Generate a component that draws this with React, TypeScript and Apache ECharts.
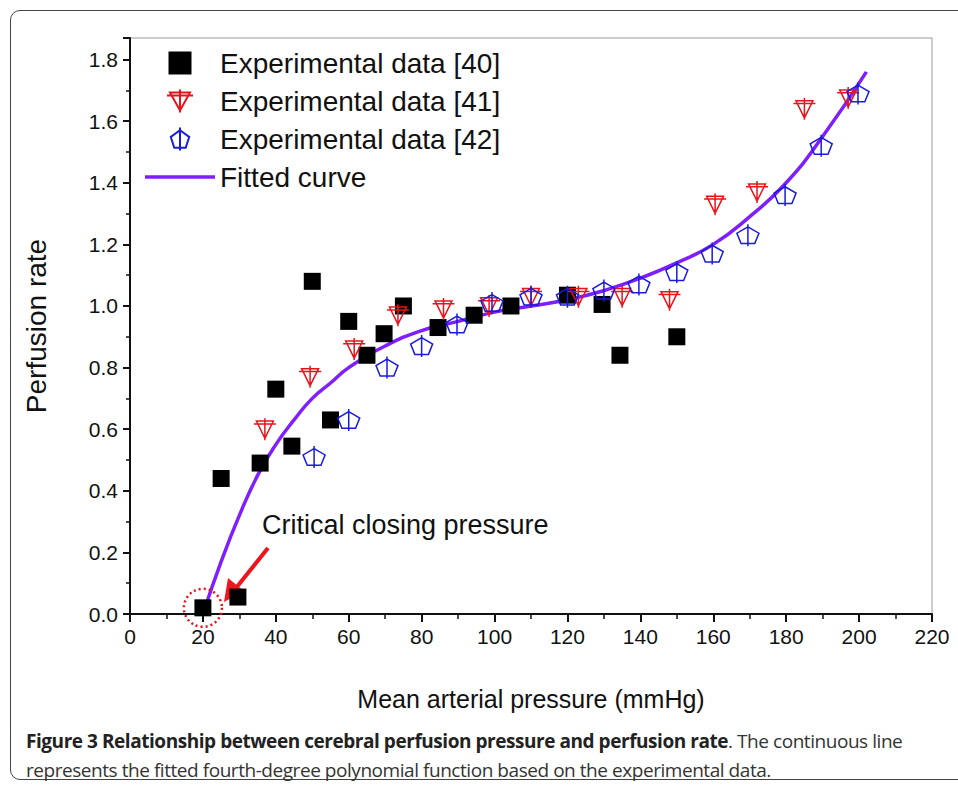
import { useEffect, useRef } from 'react'
import * as echarts from 'echarts'

const data40 = [
  [20, 0.02], [25, 0.44], [29.6, 0.055], [35.7, 0.49], [40, 0.73], [44.4, 0.545], [50, 1.08],
  [55, 0.63], [60, 0.95], [65, 0.84], [69.7, 0.91], [75, 1.0], [84.5, 0.93], [94.4, 0.97],
  [104.5, 1.0], [120, 1.035], [129.5, 1.005], [134.4, 0.84], [150, 0.9],
]
const data41 = [
  [37, 0.6], [49.4, 0.77], [61.5, 0.86], [73.5, 0.97], [86, 0.99], [98.5, 1.0], [110, 1.03],
  [123, 1.03], [135, 1.03], [148, 1.02], [160.5, 1.33], [172, 1.37], [185, 1.64], [197, 1.675],
]
const data42 = [
  [50.5, 0.51], [60, 0.63], [70.5, 0.8], [80, 0.87], [89.7, 0.94], [99.3, 1.01], [110, 1.03],
  [120, 1.03], [130, 1.05], [139.6, 1.07], [150, 1.11], [159.7, 1.17], [169.5, 1.23],
  [179.7, 1.36], [189.6, 1.52], [199.7, 1.69],
]
const fitted = [
  [20, 0.0], [25, 0.17], [30, 0.32], [35, 0.45], [40, 0.55], [45, 0.63], [50, 0.7], [55, 0.75],
  [60, 0.8], [70, 0.87], [80, 0.92], [90, 0.95], [100, 0.98], [110, 1.0], [120, 1.02], [130, 1.05],
  [140, 1.09], [150, 1.14], [160, 1.2], [170, 1.29], [180, 1.4], [190, 1.55], [202, 1.76],
]
const criticalPoint = [[20, 0.02]]

const triSymbol = 'path://M0,3 L20,3 L10,21 Z M-3,6 L23,6 M10,0 L10,23'
const pentSymbol = 'path://M10,1 L20,8.3 L16.2,20 L3.8,20 L0,8.3 Z M10,-2 L10,23'
const squareIcon = 'path://M0,0 L10,0 L10,10 L0,10 Z'
const lineIcon = 'path://M0,0 L70,0 L70,3.5 L0,3.5 Z'

export default function App() {
  const ref = useRef<HTMLDivElement>(null)

  useEffect(() => {
    if (!ref.current) return
    const chart = echarts.init(ref.current, null, { renderer: 'svg' })
    const font = '"Liberation Sans", Arial, sans-serif'
    chart.setOption({
      animation: false,
      textStyle: { fontFamily: font },
      grid: { left: 130, top: 38, right: 26, bottom: 106, show: true, borderColor: '#999', borderWidth: 1 },
      legend: {
        left: 140, top: 44, orient: 'vertical', itemGap: 10, itemWidth: 70, itemHeight: 23,
        textStyle: { fontSize: 28, color: '#111', fontFamily: font },
        data: [
          { name: 'Experimental data [40]', icon: squareIcon },
          'Experimental data [41]', 'Experimental data [42]',
          { name: 'Fitted curve', icon: lineIcon },
        ],
      },
      xAxis: {
        type: 'value', min: 0, max: 220, interval: 20,
        name: 'Mean arterial pressure (mmHg)', nameLocation: 'middle', nameGap: 72,
        nameTextStyle: { fontSize: 25, color: '#111' },
        axisLine: { lineStyle: { color: '#111', width: 2 } },
        axisTick: { length: 8, lineStyle: { color: '#111', width: 2 } },
        minorTick: { show: true, splitNumber: 2, length: 5, lineStyle: { color: '#111', width: 1.5 } },
        axisLabel: { fontSize: 21, color: '#111', margin: 12 },
        splitLine: { show: false },
      },
      yAxis: {
        type: 'value', min: 0, max: 1.87, interval: 0.2,
        name: 'Perfusion rate', nameLocation: 'middle', nameGap: 80,
        nameTextStyle: { fontSize: 28, color: '#111' },
        axisLine: { lineStyle: { color: '#111', width: 2 } },
        axisTick: { length: 7, lineStyle: { color: '#111', width: 2 } },
        minorTick: { show: true, splitNumber: 2, length: 4, lineStyle: { color: '#111', width: 1.5 } },
        axisLabel: { fontSize: 21, color: '#111', margin: 12, formatter: (v: number) => v.toFixed(1), showMaxLabel: false },
        splitLine: { show: false },
      },
      series: [
        {
          name: 'Fitted curve', type: 'line', data: fitted, smooth: true, symbol: 'none', z: 1,
          lineStyle: { color: '#7f1fff', width: 3.5 }, itemStyle: { color: '#7f1fff' },
        },
        {
          name: 'Experimental data [40]', type: 'scatter', data: data40, symbol: 'rect', symbolSize: 17,
          itemStyle: { color: '#000', opacity: 1 }, z: 3,
        },
        {
          name: 'Experimental data [41]', type: 'scatter', data: data41, symbol: triSymbol, symbolSize: 22,
          itemStyle: { color: 'rgba(0,0,0,0)', borderColor: '#e8141c', borderWidth: 1.5, opacity: 1 }, z: 3,
        },
        {
          name: 'Experimental data [42]', type: 'scatter', data: data42, symbol: pentSymbol, symbolSize: 22,
          itemStyle: { color: 'rgba(0,0,0,0)', borderColor: '#1a1adf', borderWidth: 1.5, opacity: 1 }, z: 3,
        },
        {
          name: 'critical', type: 'scatter', data: criticalPoint, symbol: 'circle', symbolSize: 38,
          itemStyle: { color: 'rgba(0,0,0,0)', borderColor: '#e8141c', borderWidth: 2.5, borderType: [2, 3], opacity: 1 }, z: 4,
        },
      ],
      graphic: [
        { type: 'text', left: 262, top: 511, style: { text: 'Critical closing pressure', fontSize: 27, fill: '#111', fontFamily: font } },
        { type: 'line', shape: { x1: 268, y1: 548, x2: 236, y2: 588 }, style: { stroke: '#f0141c', lineWidth: 4 } },
        { type: 'polygon', shape: { points: [[224, 602], [228, 578], [244, 591]] }, style: { fill: '#f0141c' } },
      ],
    })
    return () => chart.dispose()
  }, [])

  return (
    <div style={{ position: 'fixed', left: 0, top: 0, width: 958, height: 787, background: '#fff', overflow: 'hidden' }}>
      <div style={{ position: 'absolute', left: 10, top: 10, width: 970, height: 768, border: '1px solid #444', borderRadius: 10 }} />
      <div ref={ref} style={{ position: 'absolute', left: 0, top: 0, width: 958, height: 720 }} />
      <div style={{ position: 'absolute', left: 26, top: 727, width: 935, fontFamily: '"Open Sans", "Liberation Sans", sans-serif', fontSize: 19, lineHeight: '29px', color: '#333', letterSpacing: -0.45, whiteSpace: 'nowrap' }}>
        <b style={{ color: '#222' }}>Figure 3 Relationship between cerebral perfusion pressure and perfusion rate</b>. The continuous line
        <br />
        represents the fitted fourth-degree polynomial function based on the experimental data.
      </div>
    </div>
  )
}
